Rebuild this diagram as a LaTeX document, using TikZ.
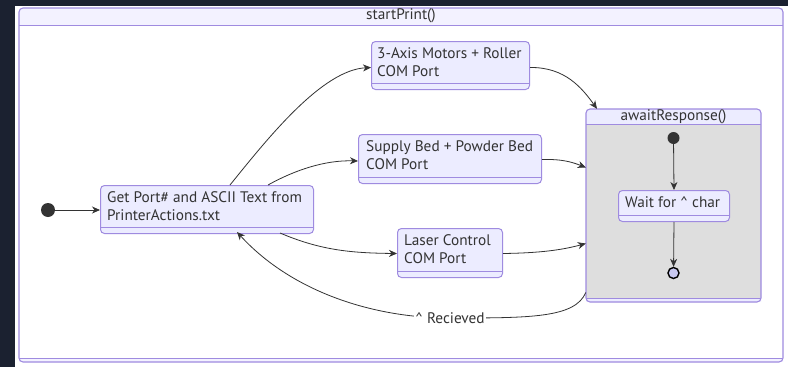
\documentclass[tikz,border=0pt]{standalone}
\usepackage{fontspec}
\setmainfont{PT Sans}
\usetikzlibrary{arrows.meta,calc}

\definecolor{pagebg}{HTML}{1B2130}
\definecolor{lavline}{HTML}{9F8BE0}
\definecolor{nodefill}{HTML}{ECECFF}
\definecolor{bandfill}{HTML}{F3F2FF}
\definecolor{innerfill}{HTML}{DEDEDE}
\definecolor{endfill}{HTML}{C8C8F0}
\definecolor{ink}{HTML}{333333}

\tikzset{
  every node/.style={font=\fontsize{15.3}{17.5}\selectfont, text=ink},
  statebox/.style={draw=lavline, fill=nodefill, line width=1pt, rounded corners=4pt,
    inner sep=0pt, anchor=north west,
    path picture={\draw[draw=lavline, line width=0.8pt]
      ([yshift=6.5pt]path picture bounding box.south west) --
      ([yshift=6.5pt]path picture bounding box.south east);}},
  statetext/.style={anchor=west, align=left, inner sep=0pt},
  edge/.style={draw=ink, line width=0.8pt, -{Stealth[length=8pt,width=7pt,inset=2.5pt]}},
  startdot/.style={circle, fill=ink, inner sep=0pt},
  enddot/.style={circle, draw=black, line width=1.4pt, fill=endfill, inner sep=0pt, minimum size=11pt},
  frame/.style={draw=lavline, line width=1.1pt, rounded corners=4pt},
  divider/.style={draw=lavline, line width=0.9pt},
  edgelabel/.style={fill=white, inner sep=1pt}
}

\begin{document}
\begin{tikzpicture}[x=1pt, y=-1pt]
  % page and dark window border
  \fill[white] (0,0) rectangle (788,367);
  \useasboundingbox (0,0) rectangle (788,367);
  \fill[pagebg] (0,0) rectangle (15,367);
  \fill[pagebg] (0,0) rectangle (788,6);

  % composite state startPrint()
  \fill[white, rounded corners=4pt] (19,8) rectangle (783,362);
  \fill[bandfill, rounded corners=4pt] (19,8) rectangle (783,25);
  \fill[bandfill] (19,15) rectangle (783,25);
  \fill[bandfill, rounded corners=4pt] (19,358) rectangle (783,362);
  \draw[frame] (19,8) rectangle (783,362);
  \draw[divider] (19,25) -- (783,25);
  \draw[divider] (19,358) -- (783,358);
  \node (outerTitle) at (401,16) {startPrint()};

  % composite state awaitResponse()
  \fill[innerfill, rounded corners=4pt] (586,109) rectangle (761,302);
  \fill[nodefill, rounded corners=4pt] (586,109) rectangle (761,124);
  \fill[nodefill] (586,116) rectangle (761,124);
  \fill[nodefill, rounded corners=4pt] (586,298) rectangle (761,302);
  \draw[frame] (586,109) rectangle (761,302);
  \draw[divider] (586,124) -- (761,124);
  \draw[divider] (586,298) -- (761,298);
  \node (await) at (673.5,205.5) [minimum width=175pt, minimum height=193pt, inner sep=0pt] {};
  \node (awaitTitle) at (673.5,116.5) {awaitResponse()};

  % simple states
  \node[statebox, minimum width=213pt, minimum height=48pt] (get) at (100,185) {};
  \node[statetext] (getT) at (107,206) {Get Port\# and ASCII Text from\\PrinterActions.txt};

  \node[statebox, minimum width=158pt, minimum height=48pt] (axis) at (371,41) {};
  \node[statetext] (axisT) at (377,62) {3-Axis Motors + Roller\\COM Port};

  \node[statebox, minimum width=183pt, minimum height=49pt] (supply) at (358,134) {};
  \node[statetext] (supplyT) at (366,155) {Supply Bed + Powder Bed\\COM Port};

  \node[statebox, minimum width=105pt, minimum height=49pt] (laser) at (397,228) {};
  \node[statetext] (laserT) at (404,249) {Laser Control\\COM Port};

  \node[statebox, minimum width=111pt, minimum height=31pt] (wait) at (618,190) {};
  \node[statetext] (waitT) at (625,202) {Wait for \textasciicircum{} char};

  % pseudo states
  \node[startdot, minimum size=14pt] (start) at (48,210) {};
  \node[startdot, minimum size=12pt] (innerStart) at (673.5,138) {};
  \node[enddot] (innerEnd) at (673.5,273) {};

  % transitions
  \draw[edge] (start) -- (get.west |- start);
  \draw[edge] ($(get.north west)+(130,0)$) .. controls (268,138) and (322,70) .. ($(axis.west)+(0,2)$);
  \draw[edge] ($(get.north west)+(168,0)$) .. controls (295,170) and (325,160) .. ($(supply.west)+(0,2)$);
  \draw[edge] ($(get.south west)+(180,-1)$) .. controls (320,250) and (350,253) .. ($(laser.west)+(0,0.5)$);
  \draw[edge] ($(axis.east)+(0,2)$) .. controls (565,67) and (582,88) .. (await.north west -| 597,0);
  \draw[edge] ($(supply.east)+(0,0.5)$) .. controls (562,159) and (572,162) .. ($(await.west)+(0,-38)$);
  \draw[edge] ($(laser.east)+(0,0.5)$) .. controls (540,253) and (562,250) .. ($(await.west)+(0,38)$);
  \draw[edge] ($(await.west)+(0,87)$) .. controls (575,318) and (530,318) .. (450,318)
    .. controls (370,318) and (290,290) .. ($(get.south west)+(137,-2)$);
  \node[edgelabel] (recv) at (450,318) {\textasciicircum{} Recieved};

  \draw[edge] (innerStart) -- (wait.north);
  \draw[edge] (wait.south) -- (innerEnd);
\end{tikzpicture}
\end{document}
